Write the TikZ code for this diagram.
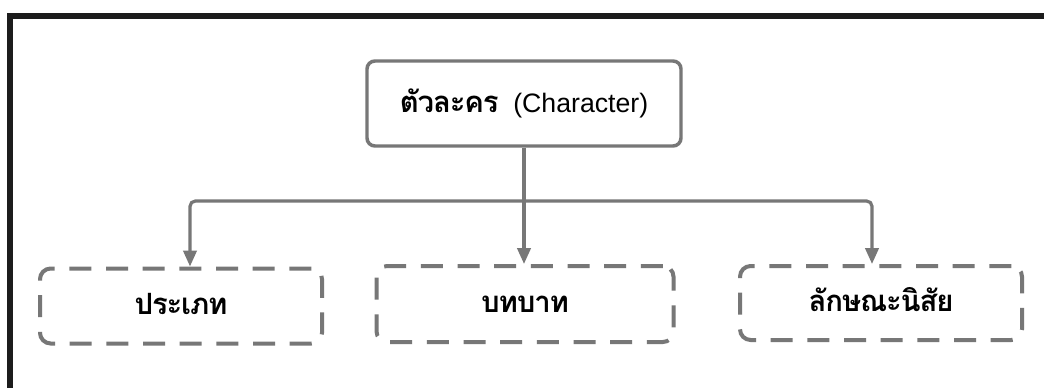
\documentclass[tikz,border=0pt]{standalone}
\usepackage{fontspec}
\setmainfont{Liberation Sans}
\newfontfamily\thaifont[Script=Thai,LetterSpace=-4]{Loma}
\usetikzlibrary{arrows.meta}
\definecolor{linegray}{HTML}{777777}
\definecolor{framecol}{HTML}{1C1C1C}
\tikzset{
  topbox/.style={draw=linegray, line width=2.6pt, rounded corners=6pt, minimum width=235.5pt, minimum height=63.75pt, inner sep=0pt, font=\fontsize{20}{24}\selectfont},
  subbox/.style={draw=linegray, line width=3pt, rounded corners=8pt, dash pattern=on 16.5pt off 11pt, inner sep=0pt, text height=15pt, text depth=2pt, font=\fontsize{22}{26}\selectfont\thaifont\bfseries},
  conn/.style={draw=linegray, line width=2.4pt},
  arr/.style={conn, -{Triangle[length=12pt,width=10pt]}},
}
\begin{document}
\begin{tikzpicture}[x=0.75pt,y=-0.75pt]
\useasboundingbox (0,0) rectangle (1044,388);
\fill[white] (0,0) rectangle (1044,388);
% frame
\draw[framecol, line width=4.5pt] (10,388) -- (10,16) -- (1044,16);
% nodes
\node[topbox] (top) at (524,103.5) {{\fontsize{22}{26}\selectfont\thaifont\bfseries ตัวละคร}\ \ (Character)};
\node[subbox, minimum width=211.5pt, minimum height=56.25pt] (b1) at (181,306) {ประเภท};
\node[subbox, minimum width=222.75pt, minimum height=57pt] (b2) at (525,304) {บทบาท};
\node[subbox, minimum width=211.5pt, minimum height=55.5pt] (b3) at (881,303) {ลักษณะนิสัย};
% connector coordinates
\coordinate (j) at (525,201);
\coordinate (cl) at (190,201);
\coordinate (cr) at (872,201);
% connectors
\draw[arr] (top.south) -- (b2.north -| top.south);
\draw[arr, rounded corners=4pt] (j) -| (b1.north -| cl);
\draw[arr, rounded corners=4pt] (j) -| (b3.north -| cr);
\end{tikzpicture}
\end{document}
